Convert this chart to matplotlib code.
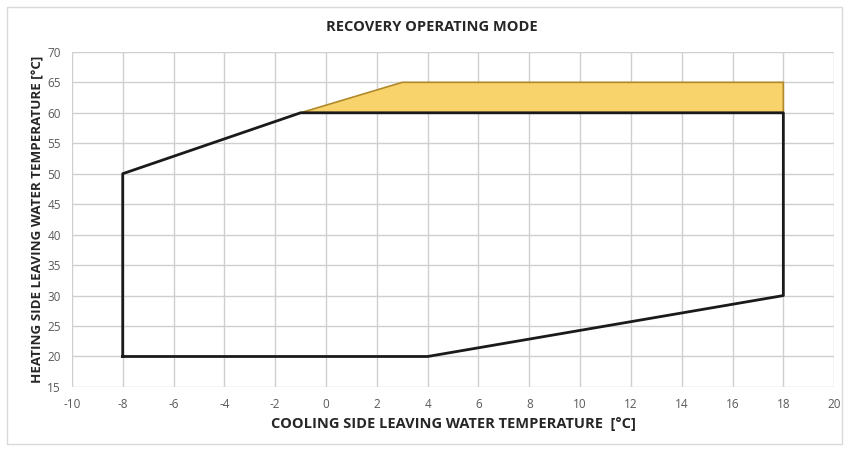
import matplotlib
matplotlib.use("Agg")
import matplotlib.pyplot as plt
from matplotlib.patches import Rectangle

# operating envelope (cooling side LWT, heating side LWT)
envelope_x = [-8, -8, -1, 18, 18, 4, -8]
envelope_y = [20, 50, 60, 60, 30, 20, 20]

# extended recovery zone (yellow)
zone_x = [-1, 3, 18, 18]
zone_y = [60, 65, 65, 60]

x_ticks = list(range(-10, 21, 2))
y_ticks = list(range(15, 71, 5))

plt.rcParams['font.family'] = ['Open Sans', 'DejaVu Sans']
plt.rcParams['axes.unicode_minus'] = False

fig = plt.figure(figsize=(8.46, 4.51), dpi=100)
ax = fig.add_axes([0.085, 0.142, 0.901, 0.743])

# chart area border
fig.patches.append(Rectangle((0.008, 0.015), 0.987, 0.97, transform=fig.transFigure,
                             fill=False, edgecolor='#d9d9d9', linewidth=1))

ax.fill(zone_x, zone_y, facecolor='#F8D36B', edgecolor='#B08A2A', linewidth=1.2, zorder=2)
ax.plot(envelope_x, envelope_y, color='#1a1a1a', linewidth=2, zorder=3)

ax.set_xlim(-10, 20)
ax.set_ylim(15, 70)
ax.set_xticks(x_ticks)
ax.set_yticks(y_ticks)
ax.grid(True, color='#cfcfcf', linewidth=1)
ax.set_axisbelow(True)
for s in ax.spines.values():
    s.set_visible(False)
ax.tick_params(length=0, labelsize=8.5, colors='#595959', pad=8)

fig.text(0.511, 0.94, 'RECOVERY OPERATING MODE', ha='center', va='center',
         fontsize=10.5, fontweight='bold', color='#262626')
ax.set_xlabel('COOLING SIDE LEAVING WATER TEMPERATURE  [°C]', fontsize=10.5, fontweight='bold',
              color='#262626', labelpad=4)
ax.set_ylabel('HEATING SIDE LEAVING WATER TEMPERATURE [°C]', fontsize=9.6, fontweight='bold',
              color='#262626', labelpad=2)

fig.savefig('out.png', dpi=100)
